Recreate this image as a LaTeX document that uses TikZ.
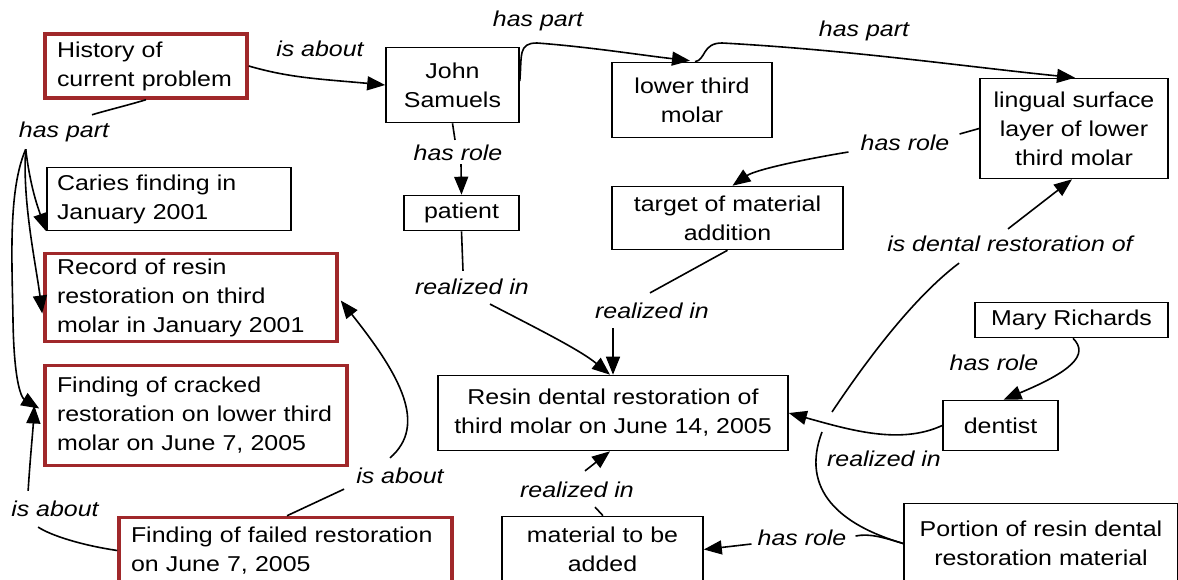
\documentclass[tikz,border=0pt]{standalone}
\usepackage{fontspec}
\setmainfont{Liberation Sans}[FakeStretch=1.16]
\usetikzlibrary{arrows.meta,calc}
\definecolor{cred}{RGB}{160,40,42}
\newcommand\nf{\fontsize{21.5}{29}\selectfont}
\newcommand\lf{\fontsize{21.5}{29}\selectfont\itshape}
\begin{document}
\begin{tikzpicture}[x=1pt,y=-1pt,
 box/.style={draw=black,line width=1.6pt,inner sep=0pt,font=\nf,align=center},
 rbox/.style={box,draw=cred,line width=3.5pt,align=left},
 lab/.style={font=\lf,inner sep=0pt},
 con/.style={line width=1.6pt},
 arr/.style={con,-{Triangle[length=18pt,width=14pt]}}]
\useasboundingbox (0,0) rectangle (1178,580);
\fill[white] (0,0) rectangle (1178,580);
\clip (0,0) rectangle (1178,580);

% concept nodes
\node[rbox,text width=178pt,minimum width=202pt,minimum height=64pt] (hist) at (146,66) {History of\\current problem};
\node[box,minimum width=133pt,minimum height=75pt] (john) at (452.5,85) {John\\Samuels};
\node[box,minimum width=160pt,minimum height=75pt] (lower) at (692,100) {lower third\\molar};
\node[box,minimum width=188pt,minimum height=100pt] (ling) at (1074,128.5) {lingual surface\\layer of lower\\third molar};
\node[box,align=left,text width=224pt,minimum width=244pt,minimum height=63pt] (caries) at (169,199) {Caries finding in\\January 2001};
\node[box,minimum width=115pt,minimum height=35pt] (patient) at (461.5,213) {patient};
\node[box,minimum width=231pt,minimum height=63pt] (target) at (727.5,218) {target of material\\addition};
\node[rbox,text width=268pt,minimum width=292pt,minimum height=88pt] (record) at (191,297.5) {Record of resin\\restoration on third\\molar in January 2001};
\node[rbox,text width=278pt,minimum width=302pt,minimum height=100pt] (cracked) at (196,415.5) {Finding of cracked\\restoration on lower third\\molar on June 7, 2005};
\node[box,minimum width=193pt,minimum height=35pt] (mary) at (1071.5,320) {Mary Richards};
\node[box,minimum width=350pt,minimum height=75pt] (resin) at (613,413) {Resin dental restoration of\\third molar on June 14, 2005};
\node[box,minimum width=115pt,minimum height=50pt] (dentist) at (1000.5,425.5) {dentist};
\node[rbox,text width=309pt,minimum width=333pt,minimum height=66pt] (failed) at (285.5,550.5) {Finding of failed restoration\\on June 7, 2005};
\node[box,minimum width=201pt,minimum height=66pt] (material) at (602.5,549.5) {material to be\\added};
\node[box,minimum width=274pt,minimum height=80pt] (portion) at (1041,543.5) {Portion of resin dental\\restoration material};

% link labels
\node[lab] (ia0) at (320,49) {is about};
\node[lab] (hp2) at (538,21) {has part};
\node[lab] (hp3) at (864,31) {has part};
\node[lab] (hp1) at (64,132) {has part};
\node[lab] (hr1) at (458,153) {has role};
\node[lab] (hr2) at (905,143) {has role};
\node[lab] (idr) at (1010,244) {is dental restoration of};
\node[lab] (ri1) at (472,287) {realized in};
\node[lab] (ri2) at (652,311) {realized in};
\node[lab] (hr3) at (994,363) {has role};
\node[lab] (ri4) at (884,459) {realized in};
\node[lab] (ri3) at (577,490) {realized in};
\node[lab] (hr4) at (802,538) {has role};
\node[lab] (ia2) at (400,476) {is about};
\node[lab] (ia1) at (55,509) {is about};

% connectors
\draw[arr] (hist.east) .. controls (290,78) and (320,79) .. (john.west);

\draw[con] (hist.south) .. controls (125,106) and (108,110) .. ($(hp1.north)+(28,-7)$);
\coordinate (fan) at ($(hp1.south west)+(7,7)$);
\draw[arr] (fan) .. controls (30,185) and (37,205) .. (caries.south west);
\draw[arr] (fan) .. controls (22,200) and (36,265) .. ($(record.west)+(-1,16)$);
\draw[arr] (fan) .. controls (8,190) and (12,260) .. (13,320) .. controls (14,385) and (22,398) .. ($(cracked.west)+(-4,-7)$);

\draw[arr] ($(john.east)+(0,-4)$) .. controls (522,55) and (518,43) .. (537,43) .. controls (590,47) and (640,55) .. ($(lower.north)+(-2,-1)$);
\draw[arr] ($(lower.north)+(3,0)$) .. controls (706,60) and (702,43) .. (722,43) .. controls (850,50) and (960,66) .. ($(ling.north)+(1,0)$);

\draw[con] (john.south) -- ($(hr1.north)+(-3,-5)$);
\draw[arr] ($(hr1.south)+(3,3)$) -- (patient.north);

\draw[con] (ling.west) -- ($(hr2.east)+(10,-9)$);
\draw[arr] ($(hr2.west)+(-12,9)$) .. controls (800,160) and (755,170) .. ($(target.north)+(5,0)$);

\draw[con] (patient.south) -- ($(ri1.north)+(-9,-8)$);
\draw[arr] ($(ri1.south)+(18,9)$) .. controls (540,330) and (580,350) .. ($(resin.north)+(-3,0)$);

\draw[con] (target.south) -- ($(ri2.north)+(-2,-10)$);
\draw[arr] ($(ri2.south)+(-39,9)$) -- (resin.north);

\draw[arr] ($(mary.south)+(1.5,0)$) .. controls (1090,355) and (1070,372) .. ($(dentist.north)+(3,0)$);

\draw[arr] (dentist.west) .. controls (900,445) and (850,430) .. (resin.east);

\coordinate (gapA) at (822,432);
\coordinate (gapB) at (832,412);
\draw[con] (portion.west) .. controls (840,525) and (800,490) .. (gapA);
\draw[con] (gapB) .. controls (860,370) and (910,300) .. ($(idr.south west)+(72,11)$);
\draw[arr] ($(idr.north)+(-2,-7)$) -- ($(ling.south)+(-2,0)$);

\draw[con] (portion.west) .. controls (885,538) and (870,533) .. ($(hr4.east)+(9,-2)$);
\draw[arr] ($(hr4.west)+(-6,6)$) -- (material.east);

\draw[con] ($(material.north)+(0.5,0)$) -- ($(ri3.south)+(18,9)$);
\draw[arr] ($(ri3.north)+(8,-11)$) -- ($(resin.south)+(-3,0)$);

\draw[con] ($(failed.north)+(1.5,0)$) -- ($(ia2.south west)+(-12,5)$);
\draw[arr] ($(ia2.north)+(-10,-10)$) .. controls (428,425) and (400,375) .. ($(record.east)+(2,3)$);

\draw[con] (failed.west) .. controls (80,545) and (50,535) .. ($(ia1.south west)+(27,10)$);
\draw[arr] ($(ia1.north west)+(17,-10)$) .. controls (30,460) and (33,430) .. ($(cracked.west)+(-9,-10)$);
\end{tikzpicture}
\end{document}
